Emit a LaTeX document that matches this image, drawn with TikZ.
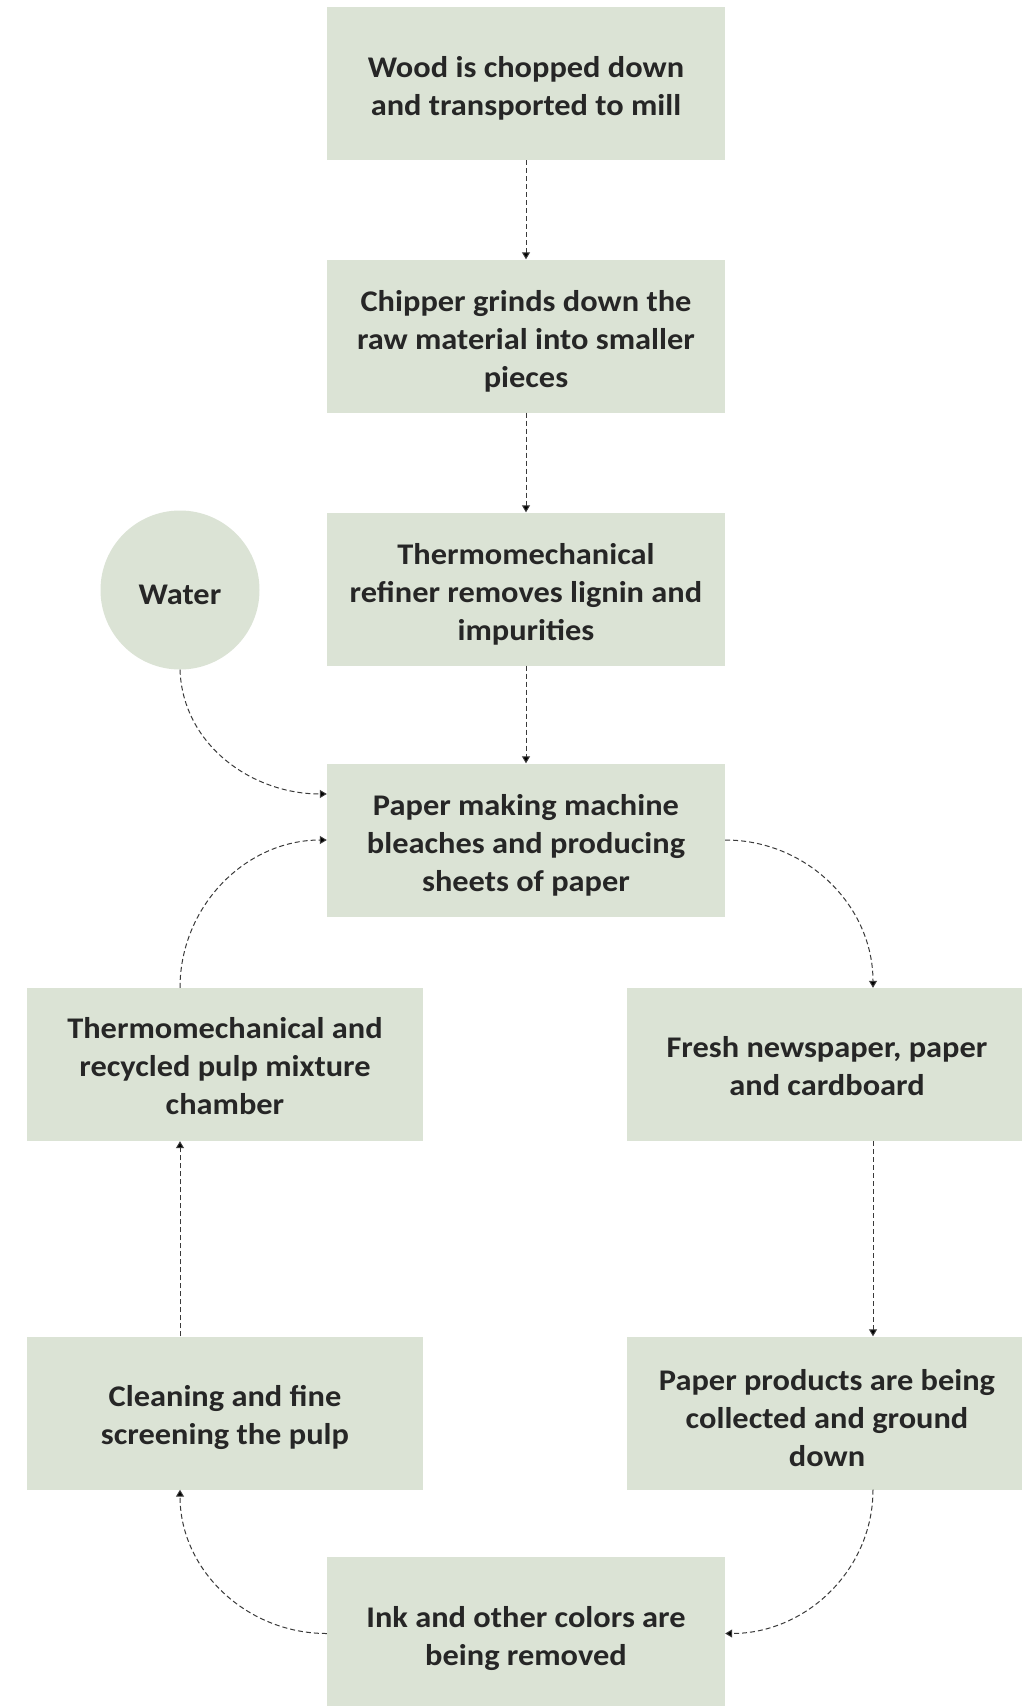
\documentclass[tikz,border=0pt]{standalone}
\usepackage{fontspec}
\setmainfont{Carlito}[FakeStretch=1.08]
\usetikzlibrary{arrows.meta,calc}
\definecolor{boxfill}{HTML}{DBE3D5}
\definecolor{txt}{HTML}{262626}
\definecolor{lnk}{HTML}{3A3A3A}
\newcommand{\lift}{\rule{0pt}{31pt}}
\newcommand{\sink}{\rule[-8pt]{0pt}{8pt}}
\begin{document}
\begin{tikzpicture}[x=1pt,y=-1pt,
  box/.style={fill=boxfill,draw=none,minimum width=398pt,minimum height=153pt,
    align=center,text=txt,font=\fontsize{30}{38}\selectfont\bfseries,inner sep=0pt},
  wcirc/.style={circle,fill=boxfill,draw=none,minimum size=159pt,text=txt,
    font=\fontsize{30}{38}\selectfont\bfseries,inner sep=0pt},
  conn/.style={draw=lnk,line width=1pt,dash pattern=on 5pt off 3pt,
    -{Triangle[length=7pt,width=8pt,fill=black]}}]
\fill[white] (0,0) rectangle (1021,1706);
\useasboundingbox (0,0) rectangle (1021,1706);
\node[box] (b1) at (526,83.5) {\lift Wood is chopped down\\and transported to mill};
\node[box] (b2) at (526,336) {\lift Chipper grinds down the\\raw material into smaller\\pieces};
\node[box] (b3) at (526,589) {\lift Thermomechanical\\refiner removes lignin and\\impurities};
\node[box] (b4) at (526,840) {\lift Paper making machine\\bleaches and producing\\sheets of paper};
\node[wcirc] (water) at (180,590) {\rule{0pt}{29pt}Water};
\node[box,minimum width=396pt] (mix) at (225,1064.5) {\lift Thermomechanical and\\recycled pulp mixture\\chamber\sink};
\node[box,minimum width=396pt] (clean) at (225,1413) {\lift Cleaning and fine\\screening the pulp};
\node[box,minimum width=400pt] (fresh) at (827,1064.5) {\lift Fresh newspaper, paper\\and cardboard\sink};
\node[box,minimum width=400pt] (prod) at (827,1413) {\lift Paper products are being\\collected and ground\\down};
\node[box] (ink) at (526,1633.5) {\lift Ink and other colors are\\being removed};
\coordinate (b4w1) at ($(b4.north west)!0.2!(b4.south west)$);
\draw[conn] (b1) -- (b2);
\draw[conn] (b2) -- (b3);
\draw[conn] (b3) -- (b4);
\draw[conn] (water.south) to[out=-88,in=180] (b4w1);
\draw[conn] ($(mix.north)+(-45,0)$) to[out=90,in=180] (b4.west);
\draw[conn] (b4.east) to[out=0,in=90] ($(fresh.north)+(46,0)$);
\draw[conn] ($(fresh.south)+(46,0)$) -- ($(prod.north)+(46,0)$);
\draw[conn] ($(prod.south)+(46,0)$) to[out=-90,in=0] (ink.east);
\draw[conn] (ink.west) to[out=180,in=-90] ($(clean.south)+(-45,0)$);
\draw[conn] ($(clean.north)+(-45,0)$) -- ($(mix.south)+(-45,0)$);
\end{tikzpicture}
\end{document}
